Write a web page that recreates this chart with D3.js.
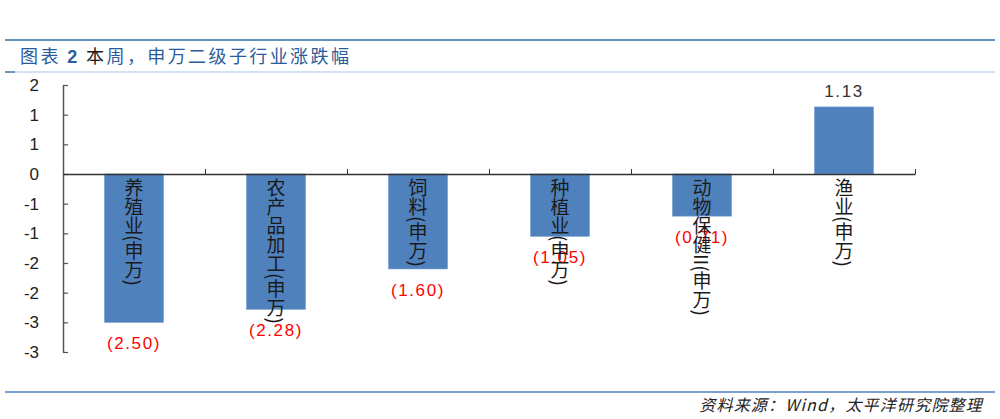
<!DOCTYPE html>
<html>
<head>
<meta charset="utf-8">
<script src="https://cdn.jsdelivr.net/npm/d3@7"></script>
<style>
  body { margin: 0; background: #fff; }
  svg { display: block; }
  text { font-family: "Liberation Sans", Arial, sans-serif; }
  .cjk { font-family: "Noto Sans CJK SC", sans-serif; }
</style>
</head>
<body>
<svg id="chart" width="1000" height="419"></svg>
<script>
const categories = ["养殖业(申万)", "农产品加工(申万)", "饲料(申万)", "种植业(申万)", "动物保健II(申万)", "渔业(申万)"]
const changes = [-2.50, -2.28, -1.60, -1.05, -0.71, 1.13]
const yTicks = [1.5, 1, 0.5, 0, -0.5, -1, -1.5, -2, -2.5, -3]
const yTickLabels = ["2", "1", "1", "0", "-1", "-1", "-2", "-2", "-3", "-3"]

const svg = d3.select("#chart")
let margin = {top: 85, bottom: 352, left: 63, right: 915}

let x = d3.scaleBand()
  .domain(categories)
  .range([margin.left, margin.right])
  .paddingInner(0.585)
  .paddingOuter(0.2925)
let xEdge = d3.scaleLinear().domain([0, categories.length]).range([margin.left, margin.right])
let y = d3.scaleLinear().domain([-3, 1.5]).range([margin.bottom, margin.top])

// header rules and title
svg.append("line")
  .attr("x1", 5).attr("x2", 995).attr("y1", 40).attr("y2", 40)
  .attr("stroke", "#2e6da4").attr("stroke-width", 1.5)
svg.append("line")
  .attr("x1", 5).attr("x2", 995).attr("y1", 72).attr("y2", 72)
  .attr("stroke", "#a9c2dc").attr("stroke-width", 1)
svg.append("line")
  .attr("x1", 5).attr("x2", 15).attr("y1", 72).attr("y2", 72)
  .attr("stroke", "#4f79a8").attr("stroke-width", 1.5)

let title = svg.append("text")
  .attr("class", "cjk")
  .attr("x", 20).attr("y", 63)
  .attr("font-size", 18)
  .attr("letter-spacing", 2.4)
  .attr("fill", "#2a5c9a")
title.append("tspan").text("图表 ")
title.append("tspan").attr("font-weight", "bold").attr("font-family", "Liberation Sans").text("2")
title.append("tspan").attr("fill", "#1a1a1a").text(" 本")
title.append("tspan").text("周，申万二级子行业涨跌幅")

// y axis
let yAxis = d3.axisLeft(y)
  .tickValues(yTicks)
  .tickFormat((d, i) => yTickLabels[i])
  .tickSizeInner(-5)
  .tickSizeOuter(0)
  .tickPadding(24)
svg.append("g")
  .attr("transform", `translate(${margin.left},0)`)
  .call(yAxis)
  .call(g => g.select(".domain").attr("stroke", "#555").attr("stroke-width", 1.5))
  .call(g => g.selectAll(".tick line").attr("stroke", "#555").attr("stroke-width", 1.2))
  .call(g => g.selectAll(".tick text")
    .attr("font-size", 17).attr("fill", "#222")
    .attr("font-family", "Liberation Sans, Arial, sans-serif"))

// bars
svg.append("g")
  .selectAll("rect")
  .data(categories)
  .join("rect")
  .attr("x", d => x(d))
  .attr("width", x.bandwidth())
  .attr("y", (d, i) => y(Math.max(0, changes[i])))
  .attr("height", (d, i) => Math.abs(y(changes[i]) - y(0)))
  .attr("fill", "#4f81bd")
  .attr("stroke", "#6f9bd0")
  .attr("stroke-width", 0.6)

// x axis line with ticks between categories
let xAxis = d3.axisBottom(xEdge)
  .tickValues(d3.range(1, categories.length + 1))
  .tickFormat("")
  .tickSizeInner(-5)
  .tickSizeOuter(0)
svg.append("g")
  .attr("transform", `translate(0,${y(0)})`)
  .call(xAxis)
  .call(g => g.select(".domain").attr("stroke", "#333").attr("stroke-width", 1.3))
  .call(g => g.selectAll(".tick line").attr("stroke", "#333"))

// value labels
svg.append("g")
  .selectAll("text")
  .data(categories)
  .join("text")
  .attr("x", d => x(d) + x.bandwidth() / 2)
  .attr("y", (d, i) => changes[i] < 0 ? y(changes[i]) + 27 : y(changes[i]) - 10)
  .attr("text-anchor", "middle")
  .attr("font-size", 17)
  .attr("letter-spacing", 1.6)
  .attr("fill", (d, i) => changes[i] < 0 ? "#ff0000" : "#333")
  .text((d, i) => changes[i] < 0 ? `(${Math.abs(changes[i]).toFixed(2)})` : changes[i].toFixed(2))

// vertical category labels
svg.append("g")
  .selectAll("text")
  .data(categories)
  .join("text")
  .attr("class", "cjk")
  .attr("x", d => x(d) + x.bandwidth() / 2)
  .attr("y", y(0) + 4)
  .style("writing-mode", "vertical-rl")
  .attr("font-size", 19)
  .attr("fill", "#1a1a1a")
  .text(d => d)

// footer
svg.append("line")
  .attr("x1", 5).attr("x2", 995).attr("y1", 392).attr("y2", 392)
  .attr("stroke", "#4f7fbf").attr("stroke-width", 1.5)
svg.append("text")
  .attr("class", "cjk")
  .attr("x", 983).attr("y", 411)
  .attr("text-anchor", "end")
  .attr("font-size", 16)
  .attr("letter-spacing", 1.2)
  .attr("font-style", "italic")
  .attr("fill", "#222")
  .text("资料来源：Wind，太平洋研究院整理")
</script>
</body>
</html>
